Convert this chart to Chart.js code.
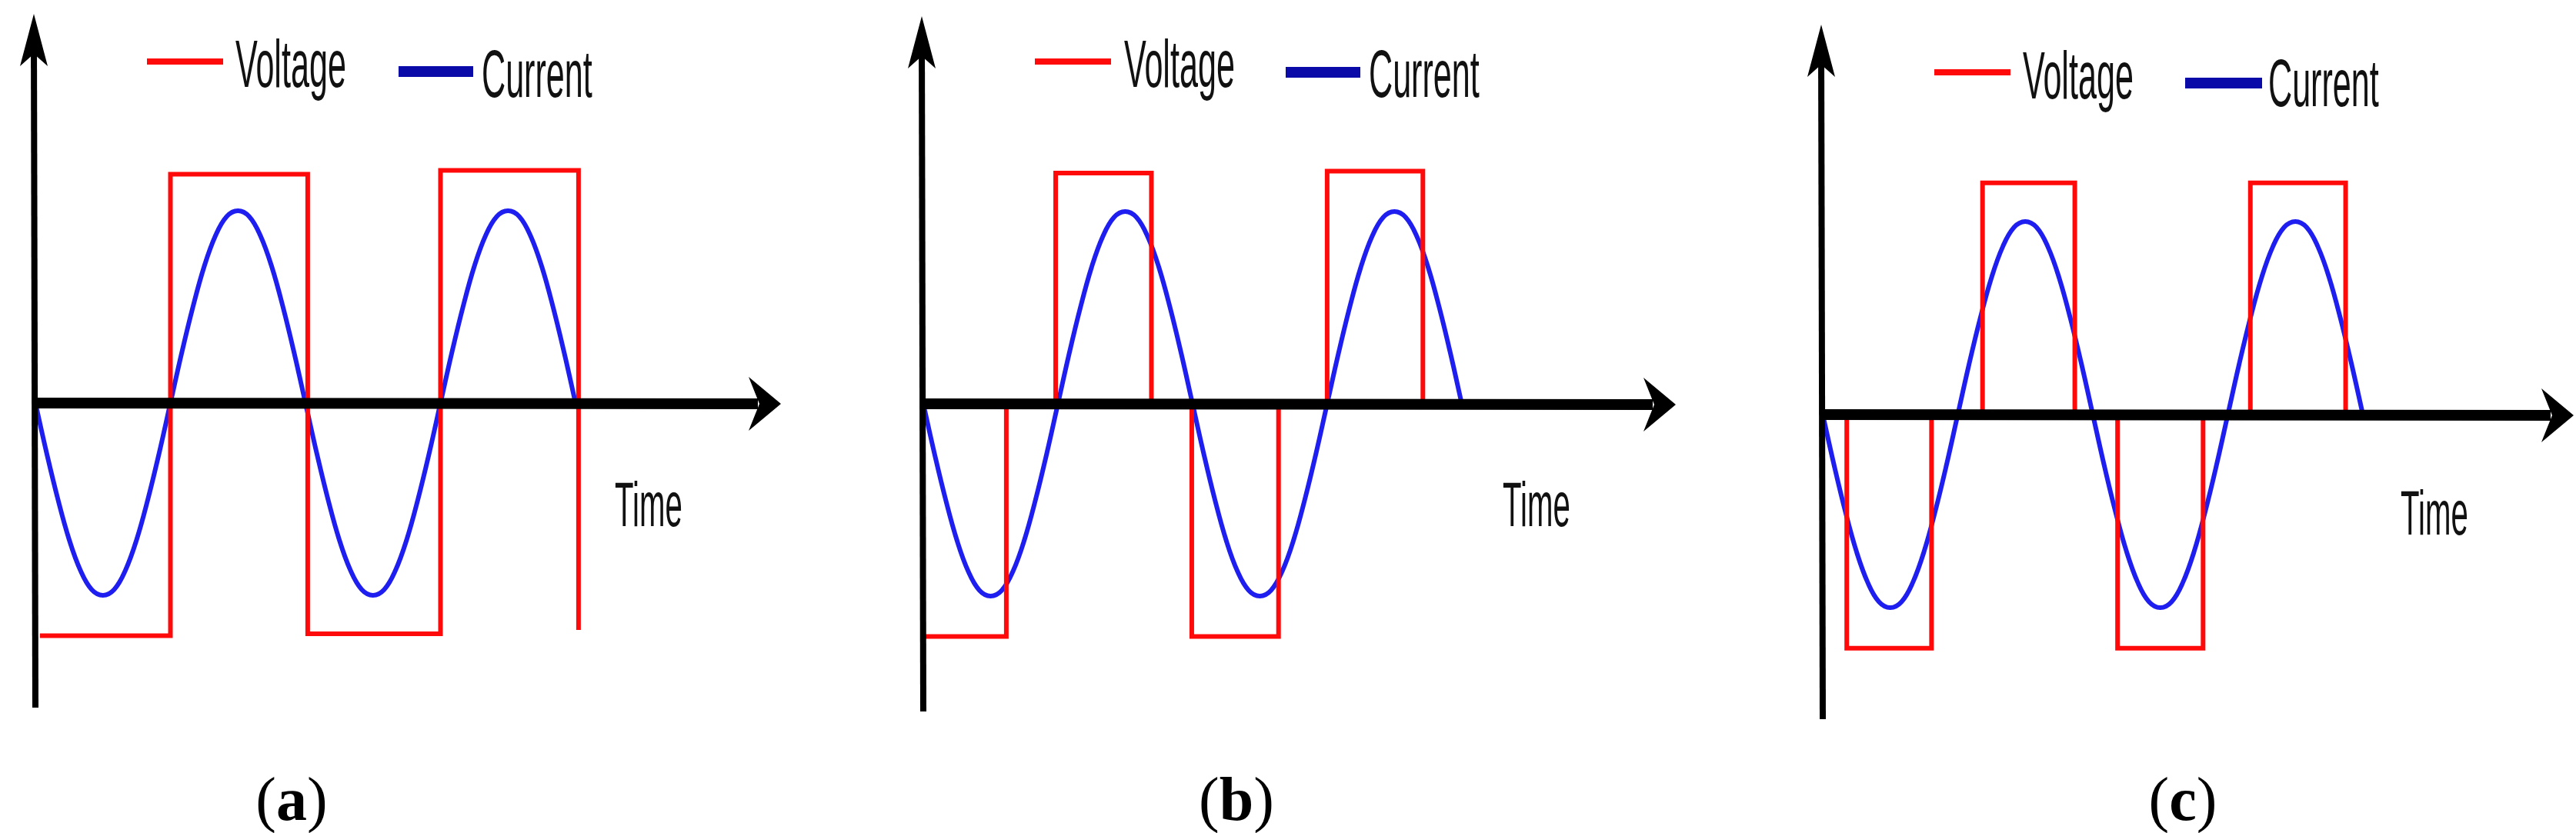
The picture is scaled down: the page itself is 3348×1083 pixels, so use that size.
<!DOCTYPE html>
<html>
<head>
<meta charset="utf-8">
<script src="https://cdn.jsdelivr.net/npm/chart.js@4"></script>
<style>
  body { margin: 0; background: #fff; width: 3348px; height: 1083px; position: relative; overflow: hidden; }
  canvas { position: absolute; top: 0; }
  .lbl { position: absolute; font-family: "Liberation Sans", Arial, sans-serif; font-size: 88px; line-height: 1;
         white-space: nowrap; transform: scaleX(0.49); transform-origin: left top; color: #111; }
  .cap { position: absolute; width: 200px; text-align: center; font-family: "Liberation Serif", serif;
         font-size: 80px; line-height: 1; color: #000; }
  .key { position: absolute; }
</style>
</head>
<body>
<script>
// phase angle in degrees (x values for the current waveform)
const phaseDeg = [0,15,30,45,60,75,90,105,120,135,150,165,180,195,210,225,240,255,270,285,300,315,330,345,
                  360,375,390,405,420,435,450,465,480,495,510,525,540,555,570,585,600,615,630,645,660,675,690,705,720];
// current, normalised to its peak (same shape in all three panels)
const currentValues = [0,-0.26,-0.5,-0.71,-0.87,-0.97,-1,-0.97,-0.87,-0.71,-0.5,-0.26,0,0.26,0.5,0.71,0.87,0.97,1,0.97,0.87,0.71,0.5,0.26,
                       0,-0.26,-0.5,-0.71,-0.87,-0.97,-1,-0.97,-0.87,-0.71,-0.5,-0.26,0,0.26,0.5,0.71,0.87,0.97,1,0.97,0.87,0.71,0.5,0.26,0];

// voltage step waveforms: switching angles and levels
const voltageA_deg = [6, 180, 180, 363, 363, 540, 540, 724, 724];
const voltageA_val = [-1.21, -1.21, 1.19, 1.19, -1.2, -1.2, 1.21, 1.21, -1.18];
const voltageB_deg = [0, 111, 111, 177, 177, 305, 305, 359, 359, 475, 475, 540, 540, 668, 668];
const voltageB_val = [-1.21, -1.21, 0, 0, 1.2, 1.2, 0, 0, -1.21, -1.21, 0, 0, 1.21, 1.21, 0];
const voltageC_deg = [32, 32, 145, 145, 213, 213, 336, 336, 393, 393, 507, 507, 570, 570, 697, 697];
const voltageC_val = [0, -1.21, -1.21, 0, 0, 1.2, 1.2, 0, 0, -1.21, -1.21, 0, 0, 1.2, 1.2, 0];

const panelNames = ['a', 'b', 'c'];
const legendLabels = ['Voltage', 'Current'];
const axisTitle = 'Time';

const panels = [
  { left: 0,    width: 1116, ox: 46,   k: 0.975, oy: 524, amp: 250, yTop: 18, yBot: 920, xEnd: 1015,
    vx: voltageA_deg, vy: voltageA_val,
    red: [191, 290, 80], blue: [518, 615, 93], vText: [306, 113], cText: [626, 126], tText: [799, 684], cap: 379 },
  { left: 1116, width: 1116, ox: 1200, k: 0.972, oy: 525, amp: 250, yTop: 21, yBot: 925, xEnd: 2178,
    vx: voltageB_deg, vy: voltageB_val,
    red: [1345, 1444, 80], blue: [1671, 1768, 94], vText: [1461, 113], cText: [1779, 126], tText: [1953, 684], cap: 1607 },
  { left: 2232, width: 1116, ox: 2369, k: 0.975, oy: 539, amp: 251, yTop: 32, yBot: 935, xEnd: 3345,
    vx: voltageC_deg, vy: voltageC_val,
    red: [2514, 2613, 94], blue: [2840, 2940, 108], vText: [2629, 128], cText: [2948, 138], tText: [3120, 695], cap: 2837 }
];

const H = 1083;

const axesPlugin = {
  id: 'axesArrows',
  afterDatasetsDraw(chart, args, opts) {
    const p = opts.panel;
    const ctx = chart.ctx;
    const x0 = chart.scales.x.getPixelForValue(0);
    const y0 = chart.scales.y.getPixelForValue(0);
    const xEnd = p.xEnd - p.left;
    ctx.save();
    ctx.strokeStyle = '#000';
    ctx.fillStyle = '#000';
    // y axis
    ctx.lineWidth = 8;
    ctx.beginPath();
    ctx.moveTo(x0, p.yBot);
    ctx.lineTo(x0 - 2, p.yTop + 30);
    ctx.stroke();
    ctx.beginPath();
    ctx.moveTo(x0 - 2, p.yTop);
    ctx.lineTo(x0 - 20, p.yTop + 68);
    ctx.lineTo(x0 - 2, p.yTop + 52);
    ctx.lineTo(x0 + 16, p.yTop + 68);
    ctx.closePath();
    ctx.fill();
    // x axis
    ctx.lineWidth = 14;
    ctx.beginPath();
    ctx.moveTo(x0, y0);
    ctx.lineTo(xEnd - 30, y0 + 1);
    ctx.stroke();
    ctx.beginPath();
    ctx.moveTo(xEnd, y0 + 1);
    ctx.lineTo(xEnd - 42, y0 - 34);
    ctx.lineTo(xEnd - 28, y0 + 1);
    ctx.lineTo(xEnd - 42, y0 + 36);
    ctx.closePath();
    ctx.fill();
    ctx.restore();
  }
};

function addText(cls, html, x, baseline, ratio, size) {
  const d = document.createElement('div');
  d.className = cls;
  d.innerHTML = html;
  d.style.left = x + 'px';
  d.style.fontSize = size + 'px';
  d.style.top = (baseline - ratio * size) + 'px';
  document.body.appendChild(d);
}

function addKey(x1, x2, y, h, color) {
  const d = document.createElement('div');
  d.className = 'key';
  d.style.left = x1 + 'px';
  d.style.width = (x2 - x1) + 'px';
  d.style.top = (y - h / 2) + 'px';
  d.style.height = h + 'px';
  d.style.background = color;
  document.body.appendChild(d);
}

panels.forEach((p, i) => {
  const cv = document.createElement('canvas');
  cv.width = p.width; cv.height = H;
  cv.style.left = p.left + 'px';
  cv.style.width = p.width + 'px'; cv.style.height = H + 'px';
  document.body.appendChild(cv);

  new Chart(cv.getContext('2d'), {
    type: 'line',
    data: {
      datasets: [
        {
          label: legendLabels[0],
          data: p.vx.map((x, j) => ({ x: x, y: p.vy[j] })),
          borderColor: '#ff0a0a', borderWidth: 6, pointRadius: 0, tension: 0, fill: false
        },
        {
          label: legendLabels[1],
          data: phaseDeg.map((x, j) => ({ x: x, y: currentValues[j] })),
          borderColor: '#1e1ef0', borderWidth: 6, pointRadius: 0, tension: 0.4, fill: false
        }
      ]
    },
    options: {
      responsive: false, animation: false, devicePixelRatio: 1,
      layout: { padding: 0 },
      scales: {
        x: { type: 'linear', display: false, min: (p.left - p.ox) / p.k, max: (p.left + p.width - p.ox) / p.k },
        y: { type: 'linear', display: false, min: (p.oy - H) / p.amp, max: p.oy / p.amp }
      },
      plugins: { legend: { display: false }, tooltip: { enabled: false }, axesArrows: { panel: p } }
    },
    plugins: [axesPlugin]
  });

  addKey(p.red[0], p.red[1], p.red[2], 8, '#ff0a0a');
  addKey(p.blue[0], p.blue[1], p.blue[2], 14, '#0a0aa8');
  addText('lbl', legendLabels[0], p.vText[0], p.vText[1], 0.8465, 88);
  addText('lbl', legendLabels[1], p.cText[0], p.cText[1], 0.8465, 88);
  addText('lbl', axisTitle, p.tText[0], p.tText[1], 0.8465, 82);
  addText('cap', '(<b>' + panelNames[i] + '</b>)', p.cap - 100, 1066, 0.8375, 80);
});
</script>
</body>
</html>
